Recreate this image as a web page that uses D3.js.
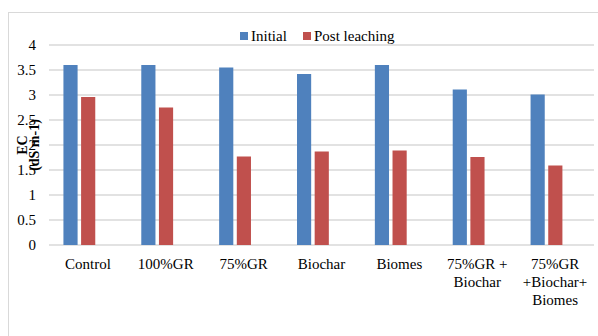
<!DOCTYPE html>
<html>
<head>
<meta charset="utf-8">
<script src="https://cdn.jsdelivr.net/npm/d3@7"></script>
<style>
  body { margin: 0; background: #fff; }
</style>
</head>
<body>
<div id="chart"></div>
<script>
// data
var categories = [["Control"], ["100%GR"], ["75%GR"], ["Biochar"], ["Biomes"],
                  ["75%GR +", "Biochar"], ["75%GR", "+Biochar+", "Biomes"]];
var initial = [3.6, 3.6, 3.55, 3.42, 3.6, 3.11, 3.01];
var postLeaching = [2.96, 2.75, 1.77, 1.87, 1.89, 1.76, 1.59];
var seriesNames = ["Initial", "Post leaching"];
var seriesColors = ["#4f81bd", "#c0504d"];
var yTicks = [0, 0.5, 1, 1.5, 2, 2.5, 3, 3.5, 4];

var FONT = "'Liberation Serif', 'Times New Roman', Times, serif";
var W = 598, H = 336;
var margin = {top: 45, right: 4, bottom: 91, left: 49},
    width = W - margin.left - margin.right,
    height = H - margin.top - margin.bottom;

var svg = d3.select("#chart").append("svg")
    .attr("width", W)
    .attr("height", H)
    .style("font-family", FONT);

// chart frame (runs off the right / bottom edge)
svg.append("rect")
    .attr("x", 8.5).attr("y", 12.5)
    .attr("width", W + 10).attr("height", H + 10)
    .attr("fill", "none")
    .attr("stroke", "#d9d9d9");

var g = svg.append("g")
    .attr("transform", "translate(" + margin.left + "," + margin.top + ")");

var x = d3.scaleBand()
    .domain(d3.range(categories.length))
    .range([0, width]);

// three slots per category, the third is empty
var xInner = d3.scaleBand()
    .domain([0, 1, 2])
    .range([-26, 27]);

var y = d3.scaleLinear()
    .domain([0, 4])
    .range([height, 0]);

// gridlines
g.append("g")
  .selectAll("line")
  .data(yTicks)
  .enter().append("line")
    .attr("x1", 0).attr("x2", width)
    .attr("y1", function(d) { return y(d); })
    .attr("y2", function(d) { return y(d); })
    .attr("stroke", "#d9d9d9")
    .attr("stroke-width", 1.5);

// y tick labels
g.append("g")
  .selectAll("text")
  .data(yTicks)
  .enter().append("text")
    .attr("x", -13)
    .attr("y", function(d) { return y(d); })
    .attr("dy", "0.35em")
    .attr("text-anchor", "end")
    .style("font-family", FONT)
    .style("font-size", "15px")
    .text(function(d) { return d; });

// bars
var series = [initial, postLeaching];
series.forEach(function(vals, s) {
  g.append("g")
    .selectAll("rect")
    .data(vals)
    .enter().append("rect")
      .attr("x", function(d, i) { return x(i) + x.bandwidth() / 2 + xInner(s) + 1.5; })
      .attr("width", xInner.bandwidth() - 3.5)
      .attr("y", function(d) { return y(d); })
      .attr("height", function(d) { return height - y(d); })
      .attr("fill", seriesColors[s]);
});

// x labels
var xl = g.append("g")
  .selectAll("text")
  .data(categories)
  .enter().append("text")
    .attr("x", function(d, i) { return x(i) + x.bandwidth() / 2; })
    .attr("y", height + 24)
    .attr("text-anchor", "middle")
    .style("font-family", FONT)
    .style("font-size", "15px");
xl.selectAll("tspan")
  .data(function(d) { return d; })
  .enter().append("tspan")
    .attr("x", function() { return d3.select(this.parentNode).attr("x"); })
    .attr("dy", function(d, i) { return i === 0 ? 0 : 18; })
    .text(function(d) { return d; });

// y axis title
var yt = svg.append("text")
    .attr("transform", "translate(27,145) rotate(-90)")
    .attr("text-anchor", "middle")
    .style("font-family", FONT)
    .style("font-size", "14px")
    .style("font-weight", "bold");
yt.append("tspan").attr("x", 0).attr("dy", 0).text("EC");
yt.append("tspan").attr("x", 0).attr("dy", 12).text("(dS m-1)");

// legend
var legend = svg.append("g");
var legX = [240, 303];
seriesNames.forEach(function(name, s) {
  legend.append("rect")
    .attr("x", legX[s]).attr("y", 32)
    .attr("width", 8).attr("height", 8)
    .attr("fill", seriesColors[s]);
  legend.append("text")
    .attr("x", legX[s] + 11).attr("y", 41)
    .style("font-family", FONT)
    .style("font-size", "15px")
    .text(name);
});
</script>
</body>
</html>
